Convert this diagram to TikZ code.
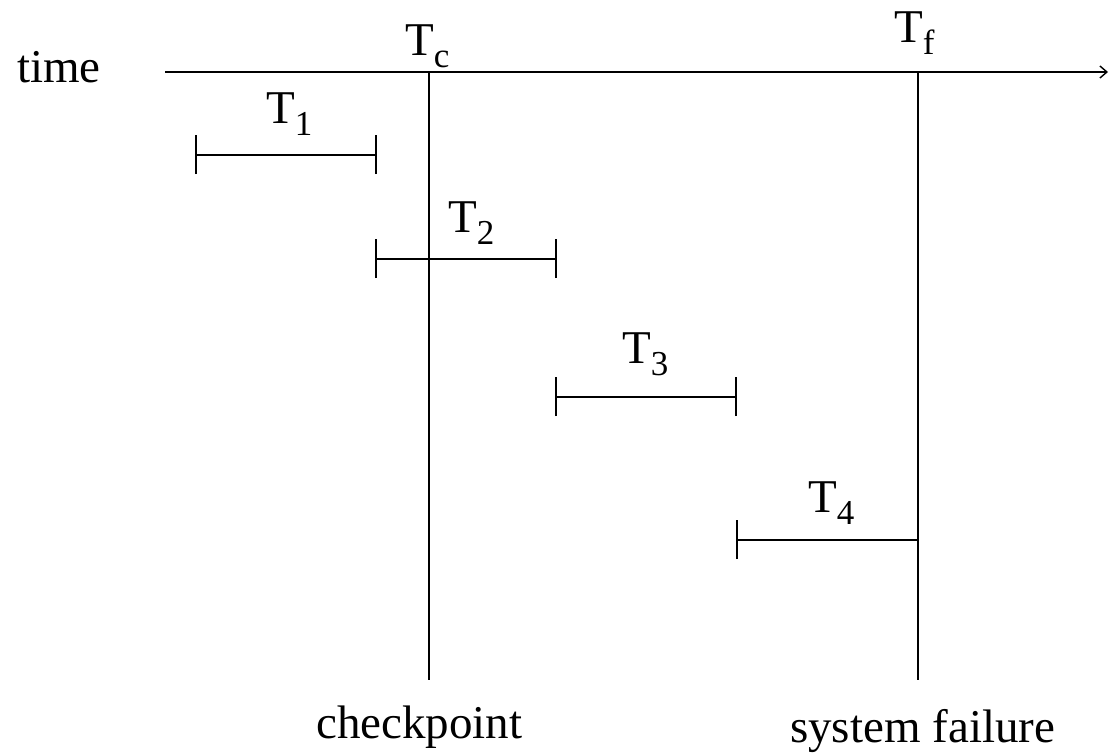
\documentclass[tikz,border=0pt]{standalone}
\usepackage{fontspec}
\setmainfont{Liberation Serif}
\usetikzlibrary{arrows.meta}
\newcommand\subtxt[1]{\raisebox{-12pt}{\fontsize{35}{37}\selectfont #1}}
\begin{document}
\begin{tikzpicture}[x=1pt,y=-1pt,
  lbl/.style={inner sep=0pt, anchor=base west, font=\fontsize{47}{50}\selectfont},
  ln/.style={line width=1.4pt, black},
  bar/.style={line width=1.2pt, black}]
\useasboundingbox (0,0) rectangle (1110,753);
% axis
\coordinate (a0) at (165,72);
\coordinate (a1) at (1108,72);
\draw[ln, -{Straight Barb[length=7pt,width=12pt,line width=1.4pt]}] (a0) -- (a1);
\node[lbl] (time) at (17,82) {time};
% verticals
\coordinate (c0) at (429,72); \coordinate (c1) at (429,680);
\coordinate (f0) at (918,72); \coordinate (f1) at (918,680);
\draw[ln] (c0) -- (c1);
\draw[ln] (f0) -- (f1);
\node[lbl] (Tc) at (405,55) {T\subtxt{c}};
\node[lbl] (Tf) at (894,42) {T\subtxt{f}};
\node[lbl] (chk) at (316,738) {checkpoint};
\node[lbl] (sf) at (790,742) {system failure};
% bars
\foreach \n/\xa/\xb/\yy in {1/196/376/155, 2/376/556/259, 3/556/736/397, 4/737/918/540}{
  \coordinate (b\n l) at (\xa,\yy);
  \coordinate (b\n r) at (\xb,\yy);
  \draw[bar] (b\n l) -- (b\n r);
  \draw[bar] ([yshift=-19pt]b\n l) -- ([yshift=20pt]b\n l);
  \draw[bar] ([yshift=-19pt]b\n r) -- ([yshift=20pt]b\n r);
}
\node[lbl] (T1) at (266,123) {T\subtxt{1}};
\node[lbl] (T2) at (448,232) {T\subtxt{2}};
\node[lbl] (T3) at (622,363) {T\subtxt{3}};
\node[lbl] (T4) at (808,512) {T\subtxt{4}};
\end{tikzpicture}
\end{document}
